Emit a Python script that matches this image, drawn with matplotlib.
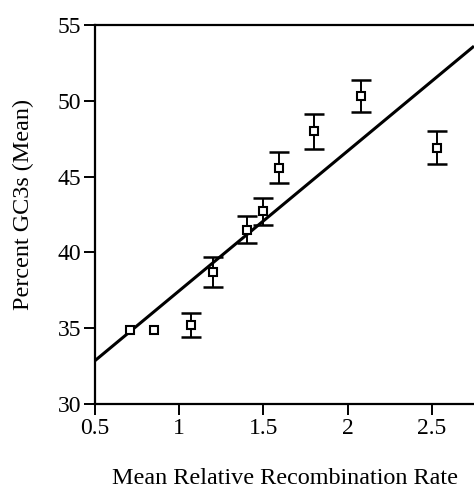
import numpy as np
import matplotlib.pyplot as plt

plt.rcParams['font.family'] = ['Liberation Serif', 'DejaVu Serif']

# mean relative recombination rate vs mean GC3s
rate = [0.71, 0.85, 1.07, 1.20, 1.40, 1.50, 1.59, 1.80, 2.08, 2.53]
gc3 = [34.9, 34.9, 35.2, 38.7, 41.5, 42.7, 45.6, 48.0, 50.3, 46.9]
err = [0.0, 0.0, 0.8, 1.0, 0.9, 0.9, 1.0, 1.15, 1.05, 1.1]

# fitted line
slope = 9.22
intercept = 28.25

xticks = [0.5, 1, 1.5, 2, 2.5]
xticklabels = ['0.5', '1', '1.5', '2', '2.5']
yticks = [30, 35, 40, 45, 50, 55]

fig = plt.figure(figsize=(4.74, 4.87), dpi=100)
ax = fig.add_axes([95/474, 1 - 404/487, 1 - 95/474, 379/487])

xmin, xmax = 0.5, 2.75
xx = np.array([xmin, xmax])
ax.plot(xx, slope*xx + intercept, color='black', lw=2.2, solid_capstyle='butt')

for x, y, e in zip(rate, gc3, err):
    if e > 0:
        ax.errorbar(x, y, yerr=e, fmt='none', ecolor='black', elinewidth=1.4,
                    capsize=7, capthick=1.8)
ax.plot(rate, gc3, 's', ms=6, mfc='white', mec='black', mew=1.5, zorder=5)

ax.set_xlim(xmin, xmax)
ax.set_ylim(30, 55)
ax.set_xticks(xticks)
ax.set_xticklabels(xticklabels)
ax.set_yticks(yticks)

ax.spines['right'].set_visible(False)
for s in ['left', 'bottom', 'top']:
    ax.spines[s].set_linewidth(1.6)
ax.tick_params(direction='out', length=8, width=1.4, labelsize=17, pad=2)

ax.set_xlabel('Mean Relative Recombination Rate', fontsize=17.4)
ax.set_ylabel('Percent GC3s (Mean)', fontsize=17.4)
ax.xaxis.set_label_coords((285 - 95) / 379, -(478 - 404) / 379)
ax.yaxis.set_label_coords(-(95 - 23) / 379, (404 - 205) / 379)
ax.xaxis.label.set_va('center')
ax.yaxis.label.set_va('center')

fig.savefig('out.png', dpi=100)
